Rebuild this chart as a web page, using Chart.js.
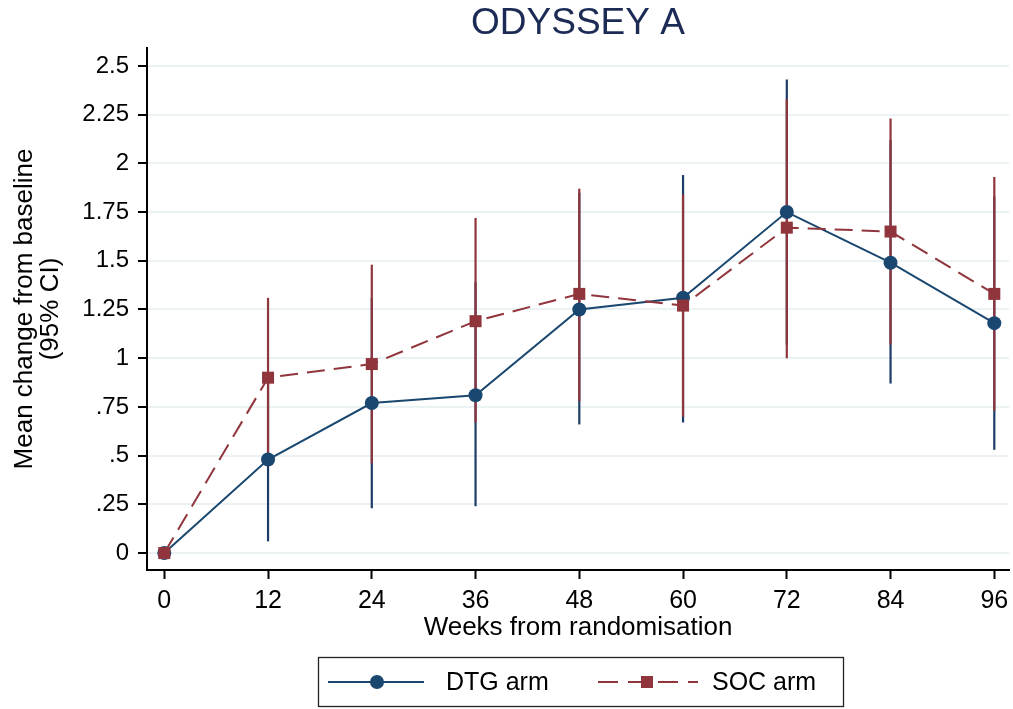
<!DOCTYPE html>
<html>
<head>
<meta charset="utf-8">
<title>ODYSSEY A</title>
<script src="https://cdn.jsdelivr.net/npm/chart.js@4.4.1/dist/chart.umd.min.js"></script>
<style>
    html, body { margin: 0; padding: 0; background: #fff; }
    #wrap { width: 1013px; height: 709px; }
</style>
</head>
<body>
<div id="wrap"><canvas id="lineChart" width="1013" height="709"></canvas></div>
<script>
// Weeks of follow-up
const weeks = [0, 12, 24, 36, 48, 60, 72, 84, 96];

// DTG arm: mean change and 95% CI
const dtgMean = [0, 0.48, 0.77, 0.81, 1.25, 1.31, 1.75, 1.49, 1.18];
const dtgLow  = [0, 0.06, 0.23, 0.24, 0.66, 0.67, 1.07, 0.87, 0.53];
const dtgHigh = [0, 0.90, 1.31, 1.39, 1.85, 1.94, 2.43, 2.12, 1.83];

// SOC arm: mean change and 95% CI
const socMean = [0, 0.90, 0.97, 1.19, 1.33, 1.27, 1.67, 1.65, 1.33];
const socLow  = [0, 0.50, 0.46, 0.67, 0.78, 0.70, 1.00, 1.07, 0.73];
const socHigh = [0, 1.31, 1.48, 1.72, 1.87, 1.84, 2.33, 2.23, 1.93];

// Axis ticks
const yTicks = [0, 0.25, 0.5, 0.75, 1, 1.25, 1.5, 1.75, 2, 2.25, 2.5];
const yTickLabels = ['0', '.25', '.5', '.75', '1', '1.25', '1.5', '1.75', '2', '2.25', '2.5'];

const NAVY = '#1a476f';
const NAVY_CI = '#1d3c68';
const MAROON = '#90353b';
const FONT = 'Liberation Sans';

// Vertical CI lines, drawn underneath the connected lines
const ciBars = {
    id: 'ciBars',
    beforeDatasetsDraw(chart) {
        const ctx = chart.ctx;
        const x = chart.scales.x;
        const y = chart.scales.y;
        const series = [
            { low: dtgLow, high: dtgHigh, color: NAVY_CI },
            { low: socLow, high: socHigh, color: MAROON }
        ];
        ctx.save();
        ctx.lineWidth = 2.2;
        series.forEach((s) => {
            ctx.strokeStyle = s.color;
            weeks.forEach((w, i) => {
                const px = x.getPixelForValue(w);
                ctx.beginPath();
                ctx.moveTo(px, y.getPixelForValue(s.low[i]));
                ctx.lineTo(px, y.getPixelForValue(s.high[i]));
                ctx.stroke();
            });
        });
        ctx.restore();
    }
};

// Boxed legend under the plot
const boxLegend = {
    id: 'boxLegend',
    afterDraw(chart) {
        const ctx = chart.ctx;
        const cy = 682;
        ctx.save();
        ctx.strokeStyle = '#222';
        ctx.lineWidth = 1.3;
        ctx.strokeRect(318.5, 657.5, 525, 49);

        // DTG arm
        ctx.strokeStyle = NAVY;
        ctx.lineWidth = 2;
        ctx.beginPath();
        ctx.moveTo(328, cy);
        ctx.lineTo(424, cy);
        ctx.stroke();
        ctx.fillStyle = NAVY;
        ctx.beginPath();
        ctx.arc(377, cy, 7, 0, Math.PI * 2);
        ctx.fill();

        // SOC arm
        ctx.strokeStyle = MAROON;
        ctx.setLineDash([20, 10]);
        ctx.beginPath();
        ctx.moveTo(598, cy);
        ctx.lineTo(698, cy);
        ctx.stroke();
        ctx.setLineDash([]);
        ctx.fillStyle = MAROON;
        ctx.fillRect(641, cy - 6, 12, 12);

        ctx.fillStyle = '#000';
        ctx.font = '25px "' + FONT + '"';
        ctx.textBaseline = 'middle';
        ctx.fillText('DTG arm', 446, cy + 1);
        ctx.fillText('SOC arm', 712, cy + 1);
        ctx.restore();
    }
};

const data = {
    datasets: [
        {
            label: 'DTG arm',
            data: weeks.map((w, i) => ({ x: w, y: dtgMean[i] })),
            borderColor: NAVY,
            backgroundColor: NAVY,
            borderWidth: 2,
            pointStyle: 'circle',
            pointRadius: 7,
            pointBorderWidth: 0,
            tension: 0,
            order: 2
        },
        {
            label: 'SOC arm',
            data: weeks.map((w, i) => ({ x: w, y: socMean[i] })),
            borderColor: MAROON,
            backgroundColor: MAROON,
            borderWidth: 2,
            borderDash: [18, 9],
            pointStyle: 'rect',
            pointRadius: 8.5,
            pointBorderWidth: 0,
            tension: 0,
            order: 1
        }
    ]
};

const config = {
    type: 'line',
    data: data,
    options: {
        responsive: false,
        animation: false,
        layout: {
            autoPadding: false,
            padding: { left: 0, right: 4, top: 0, bottom: 59 }
        },
        plugins: {
            legend: { display: false },
            tooltip: { enabled: false },
            title: {
                display: true,
                text: 'ODYSSEY A',
                color: '#1c2b55',
                fullSize: false,
                font: { family: FONT, size: 37, weight: 'normal', lineHeight: 1.2 },
                padding: { top: 1.5, bottom: 2.1 }
            }
        },
        scales: {
            x: {
                type: 'linear',
                min: -2,
                max: 97.7,
                afterBuildTicks: (axis) => { axis.ticks = weeks.map(v => ({ value: v })); },
                afterFit: (scale) => {
                    scale.height = 80;
                    scale.paddingLeft = 0;
                    scale.paddingRight = 0;
                },
                border: { color: '#000', width: 2 },
                grid: {
                    drawOnChartArea: false,
                    tickColor: '#000',
                    tickLength: 9,
                    tickWidth: 2
                },
                ticks: {
                    color: '#000',
                    padding: 7,
                    maxRotation: 0,
                    font: { family: FONT, size: 25 },
                    callback: (value) => String(value)
                },
                title: {
                    display: true,
                    text: 'Weeks from randomisation',
                    color: '#000',
                    font: { family: FONT, size: 26, lineHeight: 0.9 },
                    padding: { top: 0, bottom: 10.3 }
                }
            },
            y: {
                type: 'linear',
                min: -0.087,
                max: 2.592,
                afterBuildTicks: (axis) => { axis.ticks = yTicks.map(v => ({ value: v })); },
                afterFit: (scale) => { scale.width = 147; },
                border: { color: '#000', width: 2 },
                grid: {
                    color: '#eaf2f3',
                    lineWidth: 2,
                    tickColor: '#000',
                    tickLength: 9,
                    tickWidth: 2
                },
                ticks: {
                    color: '#000',
                    padding: 9,
                    font: { family: FONT, size: 24 },
                    callback: (value, index) => yTickLabels[index]
                },
                title: {
                    display: true,
                    text: ['Mean change from baseline', '(95% CI)'],
                    color: '#000',
                    font: { family: FONT, size: 26, lineHeight: 1.0 },
                    padding: { top: 12, bottom: 0 }
                }
            }
        }
    },
    plugins: [ciBars, boxLegend]
};

const lineChart = new Chart(document.getElementById('lineChart'), config);
</script>
</body>
</html>
